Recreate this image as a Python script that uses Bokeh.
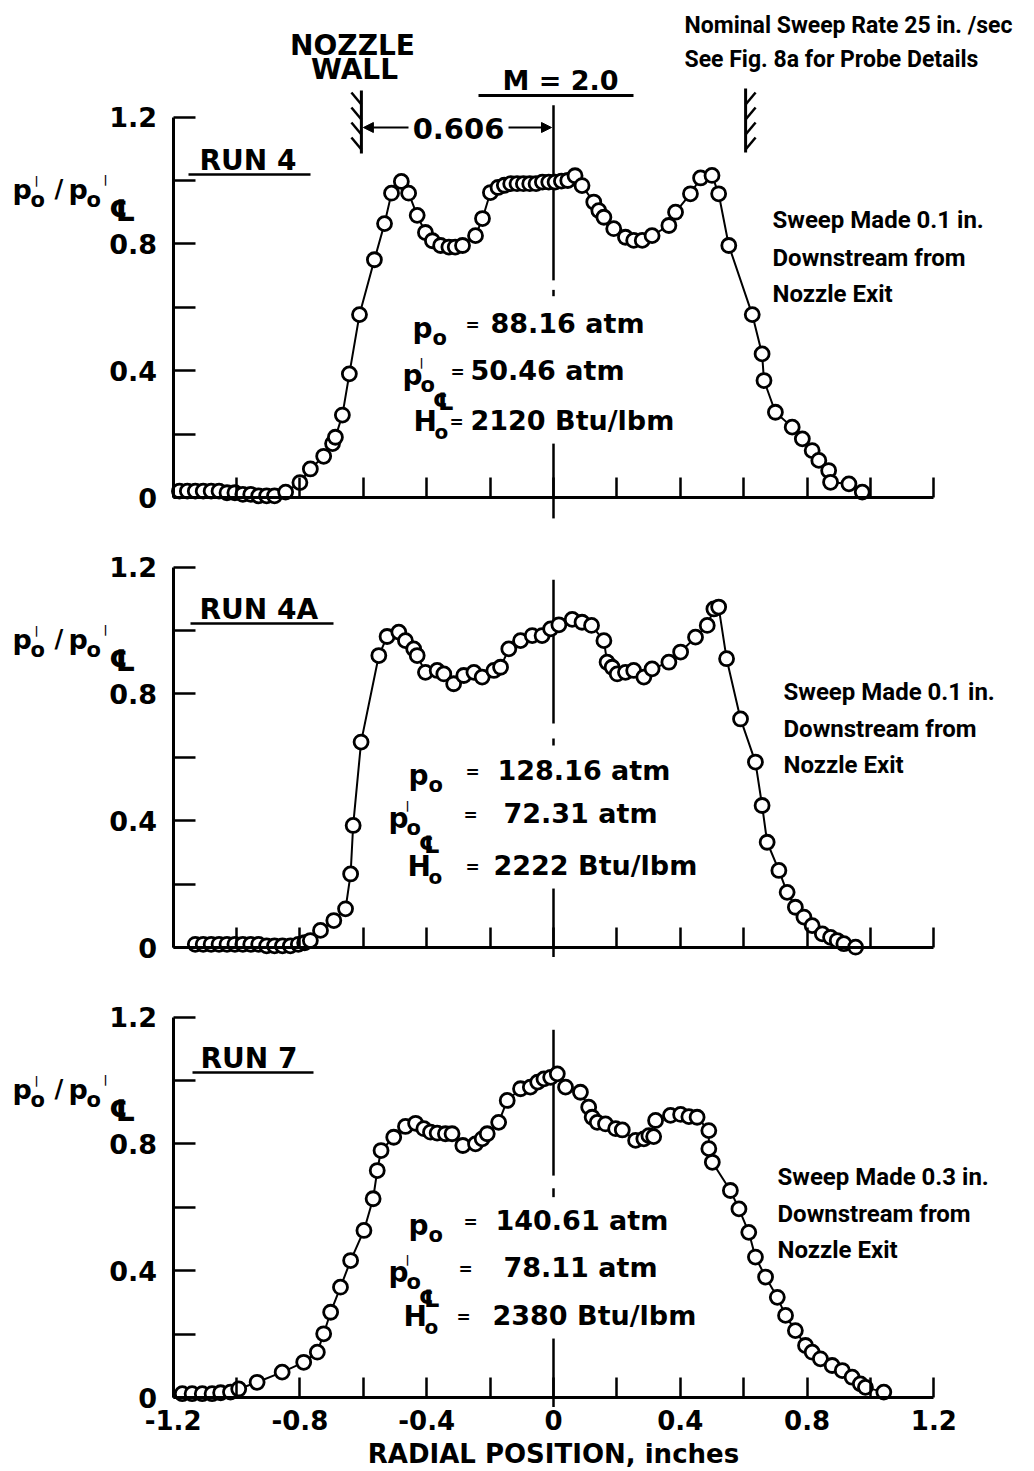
from bokeh.plotting import figure
from bokeh.layouts import column
from bokeh.models import LinearAxis, FixedTicker, Range1d, Label, Arrow, NormalHead
from bokeh.embed import file_html
from bokeh.resources import INLINE

# ---------------- data ----------------
radial_ticks = [-1.2, -0.8, -0.4, 0.0, 0.4, 0.8, 1.2]
radial_labels = ["-1.2", "-0.8", "-0.4", "0", "0.4", "0.8", "1.2"]
radial_minor = [-1.0, -0.6, -0.2, 0.2, 0.6, 1.0]
ratio_ticks = [0.0, 0.4, 0.8, 1.2]
ratio_minor = [0.2, 0.6, 1.0]

run4_x = [-1.18, -1.155, -1.13, -1.105, -1.08, -1.055, -1.03, -1.005, -0.98, -0.955,
          -0.93, -0.905, -0.88, -0.845, -0.80, -0.767, -0.725, -0.697, -0.688, -0.666,
          -0.644, -0.612, -0.565, -0.533, -0.511, -0.48, -0.457, -0.43, -0.404, -0.382,
          -0.356, -0.33, -0.31, -0.287, -0.246, -0.224, -0.199, -0.175, -0.155, -0.135,
          -0.115, -0.095, -0.075, -0.055, -0.035, -0.015, 0.005, 0.025, 0.045, 0.068,
          0.09, 0.127, 0.143, 0.159, 0.19, 0.227, 0.253, 0.28, 0.311, 0.364,
          0.385, 0.432, 0.464, 0.5, 0.521, 0.553, 0.627, 0.658, 0.664, 0.70,
          0.753, 0.785, 0.816, 0.837, 0.868, 0.874, 0.932, 0.974]
run4_y = [0.02, 0.02, 0.02, 0.02, 0.02, 0.02, 0.015, 0.015, 0.01, 0.01,
          0.005, 0.005, 0.005, 0.017, 0.047, 0.09, 0.13, 0.17, 0.19, 0.26,
          0.39, 0.577, 0.75, 0.864, 0.96, 0.997, 0.96, 0.89, 0.836, 0.81,
          0.795, 0.79, 0.79, 0.795, 0.826, 0.88, 0.962, 0.978, 0.985, 0.99,
          0.99, 0.99, 0.99, 0.99, 0.995, 0.995, 0.995, 0.998, 1.0, 1.015,
          0.984, 0.932, 0.905, 0.884, 0.848, 0.821, 0.811, 0.811, 0.826, 0.858,
          0.9, 0.958, 1.008, 1.016, 0.958, 0.795, 0.577, 0.453, 0.369, 0.269,
          0.222, 0.185, 0.148, 0.117, 0.085, 0.048, 0.043, 0.017]

run4a_x = [-1.13, -1.105, -1.08, -1.055, -1.03, -1.005, -0.98, -0.955, -0.93, -0.905,
           -0.88, -0.855, -0.83, -0.805, -0.785, -0.767, -0.735, -0.693, -0.656, -0.64,
           -0.632, -0.607, -0.551, -0.525, -0.488, -0.467, -0.441, -0.43, -0.404, -0.367,
           -0.346, -0.315, -0.283, -0.251, -0.225, -0.188, -0.167, -0.141, -0.104, -0.067,
           -0.036, -0.009, 0.017, 0.059, 0.09, 0.12, 0.159, 0.169, 0.185, 0.201,
           0.227, 0.253, 0.285, 0.311, 0.364, 0.401, 0.448, 0.485, 0.506, 0.521,
           0.546, 0.59, 0.637, 0.658, 0.674, 0.711, 0.737, 0.763, 0.79, 0.816,
           0.848, 0.874, 0.895, 0.916, 0.953]
run4a_y = [0.01, 0.01, 0.01, 0.01, 0.01, 0.01, 0.01, 0.01, 0.01, 0.005,
           0.005, 0.005, 0.005, 0.01, 0.015, 0.022, 0.054, 0.085, 0.122, 0.232,
           0.385, 0.648, 0.921, 0.981, 0.995, 0.968, 0.942, 0.921, 0.868, 0.874,
           0.863, 0.832, 0.858, 0.868, 0.853, 0.874, 0.884, 0.942, 0.968, 0.984,
           0.984, 1.005, 1.018, 1.035, 1.026, 1.016, 0.968, 0.9, 0.884, 0.863,
           0.868, 0.874, 0.853, 0.879, 0.9, 0.932, 0.979, 1.016, 1.068, 1.074,
           0.911, 0.721, 0.585, 0.448, 0.332, 0.243, 0.174, 0.127, 0.096, 0.069,
           0.043, 0.032, 0.022, 0.012, 0.001]

run7_x = [-1.171, -1.14, -1.108, -1.077, -1.05, -1.019, -0.993, -0.935, -0.856, -0.788,
          -0.745, -0.725, -0.703, -0.672, -0.64, -0.598, -0.569, -0.556, -0.544, -0.504,
          -0.467, -0.435, -0.409, -0.388, -0.367, -0.341, -0.32, -0.286, -0.246, -0.225,
          -0.209, -0.173, -0.146, -0.104, -0.073, -0.05, -0.03, -0.009, 0.012, 0.038,
          0.085, 0.111, 0.122, 0.138, 0.164, 0.196, 0.217, 0.259, 0.285, 0.301,
          0.316, 0.322, 0.369, 0.401, 0.427, 0.453, 0.49, 0.49, 0.501, 0.558,
          0.585, 0.616, 0.637, 0.669, 0.706, 0.732, 0.763, 0.795, 0.816, 0.842,
          0.879, 0.911, 0.942, 0.968, 0.984, 1.042]
run7_y = [0.012, 0.012, 0.012, 0.012, 0.015, 0.017, 0.027, 0.048, 0.08, 0.111,
          0.143, 0.201, 0.269, 0.348, 0.432, 0.527, 0.627, 0.716, 0.779, 0.821,
          0.855, 0.865, 0.848, 0.837, 0.834, 0.832, 0.832, 0.795, 0.8, 0.816,
          0.832, 0.868, 0.937, 0.974, 0.979, 0.995, 1.005, 1.01, 1.021, 0.979,
          0.963, 0.916, 0.884, 0.868, 0.863, 0.848, 0.844, 0.811, 0.816, 0.826,
          0.823, 0.874, 0.89, 0.893, 0.886, 0.884, 0.842, 0.785, 0.742, 0.653,
          0.595, 0.521, 0.443, 0.38, 0.316, 0.259, 0.211, 0.164, 0.143, 0.122,
          0.101, 0.085, 0.064, 0.043, 0.032, 0.017]

nozzle_wall = 0.606
run_names = ["RUN 4", "RUN 4A", "RUN 7"]
run_conditions = [["88.16 atm", "50.46 atm", "2120 Btu/lbm"],
                  ["128.16 atm", "72.31 atm", "2222 Btu/lbm"],
                  ["140.61 atm", "78.11 atm", "2380 Btu/lbm"]]
sweep_notes = [["Sweep Made 0.1 in.", "Downstream from", "Nozzle Exit"],
               ["Sweep Made 0.1 in.", "Downstream from", "Nozzle Exit"],
               ["Sweep Made 0.3 in.", "Downstream from", "Nozzle Exit"]]

# ---------------- layout constants ----------------
W = 1034
PX = 317.0      # pixels per unit on both axes
X0 = 553.0      # pixel column of radial position 0
GEO = "DejaVu Sans"
NARROW = "Liberation Sans Narrow, Roboto, sans-serif"
PRIME = "|"
CL = "\u2104"

assert len(run4_x) == len(run4_y) and len(run4a_x) == len(run4a_y) and len(run7_x) == len(run7_y)


def make_panel(idx, xs, ys, top, height, zero, label_x_axis):
    zl = zero - top

    def dx(px):
        return (px - X0) / PX

    def dy(py):
        return (zero - py) / PX

    p = figure(width=W, height=height,
               x_range=Range1d(-X0 / PX, (W - X0) / PX),
               y_range=Range1d(-(height - zl) / PX, zl / PX),
               x_axis_location=None, y_axis_location=None,
               toolbar_location=None, output_backend="svg",
               min_border=0, min_border_left=0, min_border_right=0,
               min_border_top=0, min_border_bottom=0,
               outline_line_color=None, background_fill_color="white",
               border_fill_color="white")
    p.grid.visible = False

    common = dict(major_label_text_font=GEO, major_label_text_font_style="bold",
                  major_label_text_color="black",
                  axis_line_width=3, axis_line_color="black",
                  major_tick_line_width=2.5, minor_tick_line_width=2.5,
                  major_tick_line_color="black", minor_tick_line_color="black")

    yaxis = LinearAxis(fixed_location=-1.2, bounds=(0, 1.2),
                       ticker=FixedTicker(ticks=ratio_ticks, minor_ticks=ratio_minor),
                       major_tick_in=22, major_tick_out=0, minor_tick_in=22, minor_tick_out=0,
                       major_label_text_font_size="27px", major_label_standoff=16,
                       **common)
    p.add_layout(yaxis, "left")

    xaxis = LinearAxis(fixed_location=0, bounds=(-1.2, 1.2),
                       ticker=FixedTicker(ticks=radial_ticks, minor_ticks=radial_minor),
                       major_tick_in=20, major_tick_out=0, minor_tick_in=20, minor_tick_out=0,
                       major_label_text_font_size="26px", major_label_standoff=12,
                       **common)
    if label_x_axis:
        xaxis.major_label_overrides = dict(zip(radial_ticks, radial_labels))
        xaxis.axis_label = "RADIAL POSITION, inches"
        xaxis.axis_label_text_font = GEO
        xaxis.axis_label_text_font_style = "bold"
        xaxis.axis_label_text_font_size = "26px"
        xaxis.axis_label_text_color = "black"
        xaxis.axis_label_standoff = 6
    else:
        xaxis.major_label_overrides = {t: "" for t in radial_ticks}
    p.add_layout(xaxis, "below")

    def lab(x_px, base_px, text, size, font=GEO, align="left"):
        # base_px is the baseline position in pixels; text is centred on its em box
        p.add_layout(Label(x=dx(x_px), y=dy(base_px - 0.36 * size), text=text, text_font=font,
                           text_font_size=f"{size}px", text_font_style="bold",
                           text_align=align, text_baseline="middle", text_color="black"))

    def mark(x_px, c_px, text, size):
        # glyph centred at (x_px, c_px)
        p.add_layout(Label(x=dx(x_px), y=dy(c_px), text=text, text_font=GEO,
                           text_font_size=f"{size}px", text_font_style="bold",
                           text_align="center", text_baseline="middle", text_color="black"))

    def seg(x0, y0, x1, y1, w=2.5):
        p.segment(x0=[dx(x0)], y0=[dy(y0)], x1=[dx(x1)], y1=[dy(y1)],
                  line_color="black", line_width=w)

    # centre line (dash-dot, interrupted for the lettering)
    center_parts = {0: [(1.237, 0.685), (0.655, 0.635), (0.17, -0.066)],
                    1: [(1.16, 0.707), (0.659, 0.637), (0.186, -0.03)],
                    2: [(1.16, 0.70), (0.66, 0.632), (0.186, -0.03)]}[idx]
    p.segment(x0=[0] * 3, x1=[0] * 3, y0=[a for a, b in center_parts],
              y1=[b for a, b in center_parts], line_color="black", line_width=2.5)

    # data
    p.line(xs, ys, line_color="black", line_width=2)
    p.scatter(xs, ys, marker="circle", size=14, fill_color="white",
              line_color="black", line_width=2.8)

    # y label  p_o' / p_o'CL
    b = zero - 304
    lab(12, b + 6, "p", 27)
    lab(30, b + 14, "o", 21)
    mark(36, b - 13, PRIME, 11)
    lab(54, b + 4, "/", 24)
    lab(68, b + 6, "p", 27)
    lab(86, b + 14, "o", 21)
    mark(105, b - 14, PRIME, 11)
    mark(122, b + 17, CL, 30)

    # run name with underline
    run_pos = {0: (199, 170, 188, 310, 174), 1: (199, 619, 190, 333, 623),
               2: (200, 1068, 192, 313, 1072)}[idx]
    lab(run_pos[0], run_pos[1], run_names[idx], 28)
    seg(run_pos[2], run_pos[4], run_pos[3], run_pos[4], 2.5)

    # conditions block: (baseline, symbol x, "=" centre x, value x)
    rows = {0: [(333, 412, 472, 490), (380, 402, 457, 470), (430, 413, 456, 470)],
            1: [(780, 408, 472, 497), (823, 388, 470, 503), (875, 407, 472, 493)],
            2: [(1230, 408, 470, 495), (1277, 388, 465, 503), (1325, 403, 463, 492)]}[idx]
    for r, (bl, sx, ex, vx) in enumerate(rows):
        if r == 0:
            lab(sx, bl + 5, "p", 28)
            lab(sx + 20, bl + 12, "o", 21)
        elif r == 1:
            lab(sx, bl + 5, "p", 28)
            mark(sx + 19, bl - 18, PRIME, 11)
            lab(sx + 18, bl + 12, "o", 21)
            mark(sx + 41, bl + 21, CL, 24)
        else:
            lab(sx, bl + 1, "H", 28)
            lab(sx + 21, bl + 9, "o", 20)
        lab(ex, bl - 2, "=", 17, align="center")
        lab(vx, bl, run_conditions[idx][r], 27)

    # sweep notes
    note = {0: (772, [228, 266, 302]), 1: (783, [700, 737, 773]),
            2: (777, [1185, 1222, 1258])}[idx]
    for t, yb in zip(sweep_notes[idx], note[1]):
        lab(note[0], yb, t, 24, font=NARROW)

    if idx == 0:
        lab(684, 33, "Nominal Sweep Rate 25 in. /sec", 23, font=NARROW)
        lab(684, 67, "See Fig. 8a for Probe Details", 23, font=NARROW)
        lab(352, 55, "NOZZLE", 28, align="center")
        lab(354, 79, "WALL", 28, align="center")
        lab(560, 90, "M = 2.0", 27, align="center")
        seg(478, 95, 633, 95, 3)
        lab(458, 138, "0.606", 29, align="center")
        # nozzle walls with hatching
        wl = X0 - nozzle_wall * PX
        wr = X0 + nozzle_wall * PX
        seg(wl, 90, wl, 153, 3)
        seg(wr, 88, wr, 152, 3)
        for hy in [92, 107, 122, 137]:
            seg(wl, hy + 12, wl - 10, hy, 2.5)
            seg(wr, hy + 12, wr + 10, hy, 2.5)
        for xs_, xe_ in [(408, wl + 2), (508, X0 - 2)]:
            p.add_layout(Arrow(end=NormalHead(size=10, line_color="black", fill_color="black"),
                               x_start=dx(xs_), y_start=dy(127), x_end=dx(xe_), y_end=dy(127),
                               line_color="black", line_width=2))
    return p


p1 = make_panel(0, run4_x, run4_y, 0, 520, 497, False)
p2 = make_panel(1, run4a_x, run4a_y, 520, 450, 947, False)
p3 = make_panel(2, run7_x, run7_y, 970, 501, 1397, True)

layout = column(p1, p2, p3, spacing=0)
open("out.html", "w").write(file_html(layout, INLINE))
